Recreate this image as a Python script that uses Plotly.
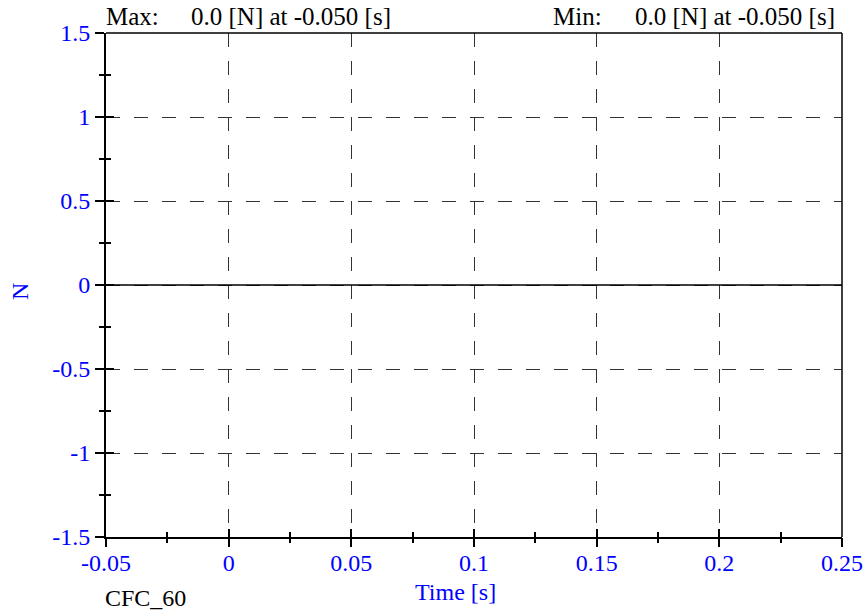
import plotly.graph_objects as go

# ---- data ----
time_s = [-0.05, 0.0, 0.05, 0.1, 0.15, 0.2, 0.25]
force_n = [0.0, 0.0, 0.0, 0.0, 0.0, 0.0, 0.0]

x_tickvals = [-0.05, 0.0, 0.05, 0.1, 0.15, 0.2, 0.25]
x_ticktext = ["-0.05", "0", "0.05", "0.1", "0.15", "0.2", "0.25"]
y_tickvals = [-1.5, -1.0, -0.5, 0.0, 0.5, 1.0, 1.5]
y_ticktext = ["-1.5", "-1", "-0.5", "0", "0.5", "1", "1.5"]

max_label = "Max:"
max_text = "0.0 [N] at -0.050 [s]"
min_label = "Min:"
min_text = "0.0 [N] at -0.050 [s]"
filter_label = "CFC_60"
x_title = "Time [s]"
y_title = "N"

FONT = "Liberation Serif, Times New Roman, serif"
BLUE = "#0000FF"
FS = 24
FS_HEAD = 25

W, H = 865, 615
ML, MR, MT, MB = 106, 23, 33, 78

fig = go.Figure()
fig.add_trace(go.Scatter(x=time_s, y=force_n, mode="lines",
                         line=dict(color="black", width=1), hoverinfo="skip",
                         showlegend=False))
# same series on overlay axes (carries the outside half of the ticks)
fig.add_trace(go.Scatter(x=time_s, y=force_n, mode="lines",
                         line=dict(color="black", width=1), hoverinfo="skip",
                         showlegend=False, xaxis="x2", yaxis="y2"))

grid = dict(showgrid=True, gridcolor="#333333", gridwidth=1, griddash="14px,14px")

fig.update_layout(
    width=W, height=H,
    margin=dict(l=ML, r=MR, t=MT, b=MB, autoexpand=False),
    paper_bgcolor="white", plot_bgcolor="white",
    showlegend=False,
    font=dict(family=FONT, size=FS, color=BLUE),
    xaxis=dict(range=[-0.05, 0.25], tickmode="array", tickvals=x_tickvals,
               ticktext=x_ticktext, ticks="inside", ticklen=8, tickwidth=2,
               tickcolor="black", showline=True, linecolor="black", linewidth=2,
               zeroline=False, tickfont=dict(color=BLUE, size=FS, family=FONT),
               minor=dict(dtick=0.025, tick0=-0.05, ticks="inside", ticklen=5,
                          tickwidth=2, tickcolor="black", showgrid=False),
               ticklabeloverflow="allow", ticklabelstandoff=3,
               automargin=False, fixedrange=True, **grid),
    yaxis=dict(range=[-1.5, 1.5], tickmode="array", tickvals=y_tickvals,
               ticktext=y_ticktext, ticks="outside", ticklen=9, tickwidth=2,
               tickcolor="black", showline=True, linecolor="black", linewidth=2,
               zeroline=False, tickfont=dict(color=BLUE, size=FS, family=FONT),
               minor=dict(dtick=0.25, tick0=-1.5, ticks="outside", ticklen=5,
                          tickwidth=2, tickcolor="black", showgrid=False),
               ticklabeloverflow="allow",
               automargin=False, fixedrange=True, **grid),
    xaxis2=dict(range=[-0.05, 0.25], overlaying="x", anchor="y2", side="bottom",
                tickmode="array", tickvals=x_tickvals, ticks="outside", ticklen=9,
                tickwidth=2, tickcolor="black", showticklabels=False,
                showgrid=False, zeroline=False, showline=False,
                minor=dict(dtick=0.025, tick0=-0.05, ticks="outside", ticklen=5,
                           tickwidth=2, tickcolor="black", showgrid=False),
                automargin=False, fixedrange=True),
    yaxis2=dict(range=[-1.5, 1.5], overlaying="y", anchor="x2", side="left",
                tickmode="array", tickvals=y_tickvals, ticks="inside", ticklen=8,
                tickwidth=2, tickcolor="black", showticklabels=False,
                showgrid=False, zeroline=False, showline=False,
                minor=dict(dtick=0.25, tick0=-1.5, ticks="inside", ticklen=5,
                           tickwidth=2, tickcolor="black", showgrid=False),
                automargin=False, fixedrange=True),
    shapes=[
        dict(type="line", xref="paper", yref="paper", x0=0, x1=1, y0=1, y1=1,
             line=dict(color="black", width=1.5)),
        dict(type="line", xref="paper", yref="paper", x0=1, x1=1, y0=0, y1=1,
             line=dict(color="black", width=1.5)),
    ],
)

PW = W - ML - MR
PH = H - MT - MB


def px_x(px):
    return (px - ML) / PW


def px_y(py):
    return (H - MB - py) / PH


def note(text, x, y, color="black", xanchor="left", angle=0, size=FS):
    fig.add_annotation(text=text, x=px_x(x), y=px_y(y), xref="paper", yref="paper",
                       xanchor=xanchor, yanchor="middle", showarrow=False,
                       textangle=angle,
                       font=dict(family=FONT, size=size, color=color))


note(max_label, 104, 17, size=FS_HEAD)
note(max_text, 189, 17, size=FS_HEAD)
note(min_label, 551, 17, size=FS_HEAD)
note(min_text, 633, 17, size=FS_HEAD)
note(filter_label, 103, 598)
note(x_title, 455, 592, color=BLUE, xanchor="center")
note(y_title, 20, 292, color=BLUE, xanchor="center", angle=-90)

fig.write_html("out.html", config={"displayModeBar": False},
               post_script="document.body.style.margin='0';"
                           "document.body.style.overflow='hidden';")
